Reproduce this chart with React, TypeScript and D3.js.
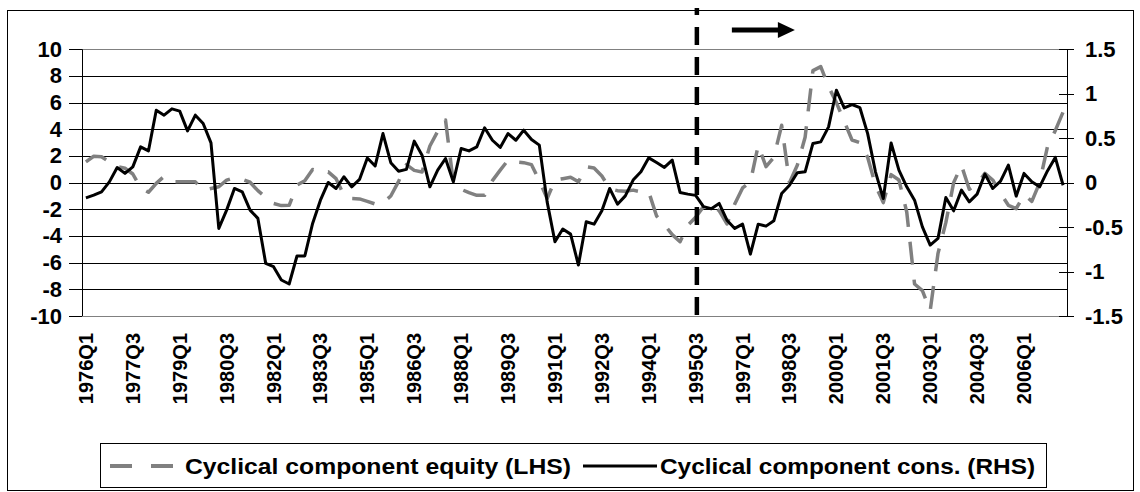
import React from "react";
import * as d3 from "d3";

// ---------- DATA ----------
const quarters: string[] = [];
for (let y = 1976; y <= 2007; y++) {
  for (let q = 1; q <= 4; q++) {
    if (quarters.length < 126) quarters.push(`${y}Q${q}`);
  }
}

// Cyclical component equity (LHS)
const equity: number[] = [
  1.56, 1.98, 1.94, 1.55, 1.2, 1.08, 0.65, -0.4, -0.72, -0.05,
  0.47, 0.06, 0.06, 0.06, 0.06, -0.56, -0.44, -0.31, 0.19, 0.38,
  0.26, 0.03, -0.6, -1.1, -1.56, -1.72, -1.7, -0.19, 0.15, 0.99,
  0.76, 0.81, 0.3, -0.95, -1.19, -1.22, -1.4, -1.6, -1.5, -1.0,
  0.1, 1.35, 0.92, 0.8, 2.75, 3.85, 4.7, 0.0, -0.5, -0.75,
  -0.95, -0.95, 0.15, 0.94, 1.69, 1.56, 1.5, 1.35, 0.15, -1.2,
  0.2, 0.3, 0.4, 0.06, 1.2, 1.1, 0.5, -0.45, -0.6, -0.65,
  -0.56, -0.69, -0.7, -2.5, -3.15, -3.9, -4.43, -3.2, -2.6, -1.8,
  -1.7, -2.1, -3.1, -1.6, -0.4, 0.06, 2.8, 1.2, 1.9, 4.3,
  0.0, 1.3, 3.4, 8.4, 8.7, 7.2, 6.0, 4.6, 3.2, 3.0,
  1.9, -0.2, -1.5, 0.6, 0.2, -2.2, -7.6, -8.1, -9.6, -5.3,
  -3.0, 0.0, 1.3, -0.5, -0.1, 0.7, 0.2, -0.8, -1.7, -1.95,
  -0.9, -1.4, 0.0, 2.7, 3.9, 5.3,
];

// Cyclical component cons. (RHS)
const consumption: number[] = [
  -0.171, -0.141, -0.104, 0.009, 0.171, 0.104, 0.177, 0.402, 0.357, 0.815,
  0.759, 0.83, 0.804, 0.582, 0.759, 0.665, 0.447, -0.515, -0.309, -0.065,
  -0.104, -0.309, -0.402, -0.908, -0.945, -1.095, -1.14, -0.825, -0.825, -0.459,
  -0.197, 0.002, -0.066, 0.066, -0.047, 0.036, 0.278, 0.188, 0.552, 0.224,
  0.129, 0.149, 0.467, 0.309, -0.047, 0.141, 0.272, 0.009, 0.384, 0.357,
  0.402, 0.617, 0.477, 0.396, 0.552, 0.477, 0.59, 0.486, 0.422, -0.216,
  -0.665, -0.522, -0.579, -0.927, -0.44, -0.467, -0.317, -0.066, -0.242, -0.149,
  0.029, 0.122, 0.279, 0.227, 0.171, 0.254, -0.11, -0.129, -0.143, -0.27,
  -0.293, -0.234, -0.422, -0.515, -0.467, -0.804, -0.467, -0.489, -0.429, -0.122,
  -0.029, 0.111, 0.122, 0.441, 0.459, 0.627, 1.04, 0.84, 0.879, 0.845,
  0.552, 0.122, -0.179, 0.447, 0.141, -0.047, -0.197, -0.497, -0.702, -0.627,
  -0.167, -0.317, -0.084, -0.216, -0.129, 0.096, -0.066, 0.017, 0.197, -0.152,
  0.104, 0.009, -0.047, 0.132, 0.284, -0.029,
];

const leftTicks: number[] = [10, 8, 6, 4, 2, 0, -2, -4, -6, -8, -10];
const rightTicks: number[] = [1.5, 1, 0.5, 0, -0.5, -1, -1.5];
const xTickLabels: string[] = quarters.filter((_, i) => i % 6 === 0);
const breakQuarter = "1995Q3";
const legendLabels: string[] = [
  "Cyclical component equity (LHS)",
  "Cyclical component cons. (RHS)",
];

// ---------- LAYOUT ----------
const W = 1140;
const H = 492;
const plot = { left: 82, right: 1067, top: 49.3, bottom: 316 };
const FONT = "'Liberation Sans', Arial, Helvetica, sans-serif";
const GRAY = "#808080";

export default function App() {
  const x = d3
    .scaleBand<string>()
    .domain(quarters)
    .range([plot.left, plot.right])
    .paddingInner(0)
    .paddingOuter(0);
  const cx = (q: string) => (x(q) as number) + x.bandwidth() / 2;
  const yL = d3.scaleLinear().domain([-10, 10]).range([plot.bottom, plot.top]);
  const yR = d3.scaleLinear().domain([-1.5, 1.5]).range([plot.bottom, plot.top]);

  const eqLine = d3
    .line<number>()
    .x((_, i) => cx(quarters[i]))
    .y((d) => yL(d));
  const consLine = d3
    .line<number>()
    .x((_, i) => cx(quarters[i]))
    .y((d) => yR(d));

  const bx = cx(breakQuarter) + 1.2;

  return (
    <svg
      width={W}
      height={H}
      viewBox={`0 0 ${W} ${H}`}
      style={{ position: "absolute", left: 0, top: 0, background: "#fff" }}
      fontFamily={FONT}
      fontWeight="bold"
    >
      <rect x={0} y={0} width={W} height={H} fill="#fff" />
      {/* outer chart border */}
      <rect x={7.5} y={10.5} width={1126} height={480} fill="none" stroke="#000" strokeWidth={1} />

      {/* gridlines */}
      {leftTicks.map((t) => (
        <line
          key={"g" + t}
          x1={plot.left}
          x2={plot.right}
          y1={Math.round(yL(t)) + 0.5}
          y2={Math.round(yL(t)) + 0.5}
          stroke={Math.abs(t) === 10 ? GRAY : "#000"}
          strokeWidth={1}
        />
      ))}

      {/* left axis */}
      <line x1={plot.left + 0.5} x2={plot.left + 0.5} y1={yL(10)} y2={yL(-10)} stroke="#000" />
      {leftTicks.map((t) => (
        <g key={"lt" + t}>
          <line
            x1={69}
            x2={plot.left}
            y1={Math.round(yL(t)) + 0.5}
            y2={Math.round(yL(t)) + 0.5}
            stroke="#000"
          />
          <text x={62} y={yL(t)} textAnchor="end" dominantBaseline="central" fontSize={22}>
            {t}
          </text>
        </g>
      ))}

      {/* right axis */}
      <line x1={plot.right + 0.5} x2={plot.right + 0.5} y1={yR(1.5)} y2={yR(-1.5)} stroke="#000" />
      {rightTicks.map((t) => (
        <g key={"rt" + t}>
          <line
            x1={plot.right - 8}
            x2={plot.right + 7}
            y1={Math.round(yR(t)) + 0.5}
            y2={Math.round(yR(t)) + 0.5}
            stroke="#000"
          />
          <text x={1085} y={yR(t)} textAnchor="start" dominantBaseline="central" fontSize={22}>
            {t}
          </text>
        </g>
      ))}

      {/* x labels */}
      {xTickLabels.map((q) => (
        <text
          key={q}
          transform={`translate(${cx(q)},333) rotate(-90)`}
          textAnchor="end"
          dominantBaseline="central"
          fontSize={20}
        >
          {q}
        </text>
      ))}

      {/* series */}
      <path
        d={eqLine(equity) || ""}
        fill="none"
        stroke={GRAY}
        strokeWidth={3.5}
        strokeDasharray="23 15"
        strokeLinejoin="round"
      />
      <path d={consLine(consumption) || ""} fill="none" stroke="#000" strokeWidth={3} strokeLinejoin="round" />

      {/* structural break */}
      <line
        x1={bx}
        x2={bx}
        y1={8}
        y2={323}
        stroke="#000"
        strokeWidth={4.5}
        strokeDasharray="18 12"
        strokeDashoffset={11}
      />
      <line x1={bx + 35} x2={bx + 83} y1={30} y2={30} stroke="#000" strokeWidth={5} />
      <path d={`M${bx + 81},${22} L${bx + 98},${30} L${bx + 81},${38} Z`} fill="#000" />

      {/* legend */}
      <rect x={100.5} y={443.5} width={946} height={44} fill="#fff" stroke="#000" strokeWidth={1} />
      <line x1={110} x2={173} y1={466} y2={466} stroke={GRAY} strokeWidth={4} strokeDasharray="22 19" />
      <text x={185} y={466} dominantBaseline="central" fontSize={22} textLength={386} lengthAdjust="spacingAndGlyphs">
        {legendLabels[0]}
      </text>
      <line x1={583} x2={657} y1={466} y2={466} stroke="#000" strokeWidth={3} />
      <text x={660} y={466} dominantBaseline="central" fontSize={22} textLength={375} lengthAdjust="spacingAndGlyphs">
        {legendLabels[1]}
      </text>
    </svg>
  );
}
